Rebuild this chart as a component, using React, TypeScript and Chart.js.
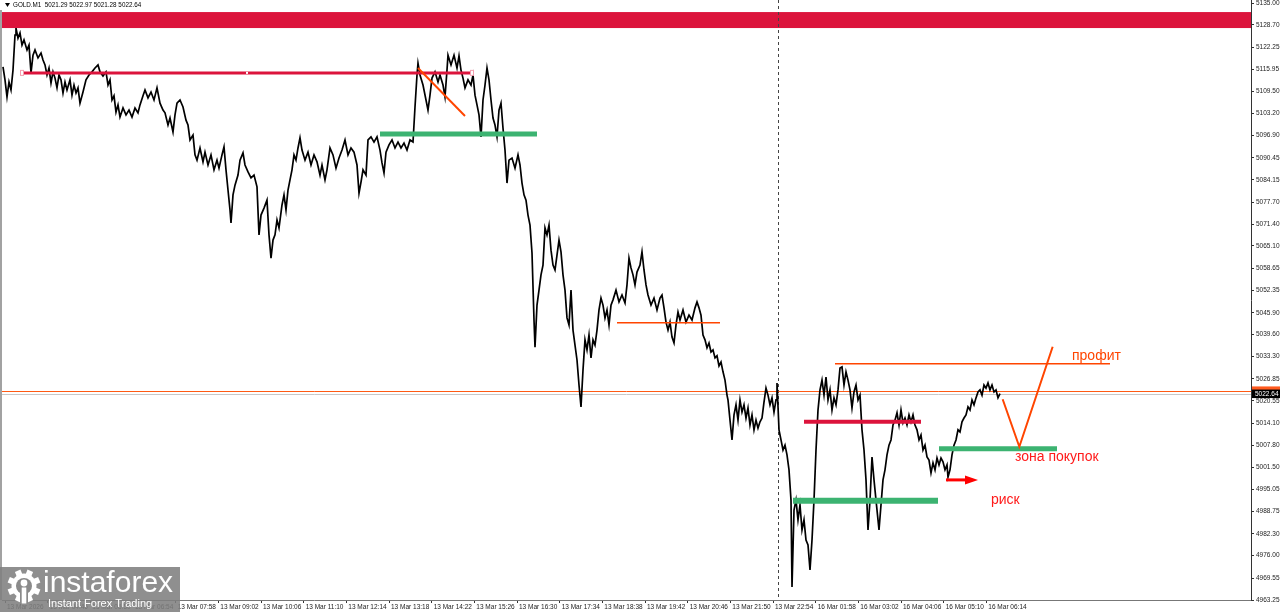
import React, { useEffect, useRef } from "react";
import { Chart, registerables } from "chart.js";

Chart.register(...registerables);

// ---------------- DATA ----------------
const symbolHeader = "GOLD.M1  5021.29 5022.97 5021.28 5022.64";

const timeLabels = [
  "13 Mar 2026", "13 Mar 04:46", "13 Mar 05:50", "13 Mar 06:54", "13 Mar 07:58",
  "13 Mar 09:02", "13 Mar 10:06", "13 Mar 11:10", "13 Mar 12:14", "13 Mar 13:18",
  "13 Mar 14:22", "13 Mar 15:26", "13 Mar 16:30", "13 Mar 17:34", "13 Mar 18:38",
  "13 Mar 19:42", "13 Mar 20:46", "13 Mar 21:50", "13 Mar 22:54", "16 Mar 01:58",
  "16 Mar 03:02", "16 Mar 04:06", "16 Mar 05:10", "16 Mar 06:14",
];
const barsPerTimeLabel = 64;

const priceTicks = [
  5135.0, 5128.7, 5122.25, 5115.95, 5109.5, 5103.2, 5096.9, 5090.45, 5084.15,
  5077.7, 5071.4, 5065.1, 5058.65, 5052.35, 5045.9, 5039.6, 5033.3, 5026.85,
  5020.55, 5014.1, 5007.8, 5001.5, 4995.05, 4988.75, 4982.3, 4976.0, 4969.55,
  4963.25,
];

const priceMin = 4963.25;
const priceMax = 5135.87;
const barMin = -4.5;
const barMax = 1869;

// [bar index (minutes from first label), close price]
const closes: [number, number][] = [
  [-3,5116.6],[0,5112.9],[3,5108.0],[6,5112.3],[9,5110.0],[12,5115.7],[15,5125.8],[16.5,5127.8],[19.5,5124.9],[22.5,5126.4],
  [25.5,5122.9],[28.5,5124.4],[33,5121.5],[36,5122.9],[39,5114.9],[42,5120.0],[45,5121.5],[49.5,5119.2],[54,5120.6],[57,5118.6],
  [60,5117.2],[63,5114.3],[66,5116.3],[69,5112.0],[72,5115.2],[75,5113.4],[78,5110.6],[81,5114.3],[84,5112.9],[87,5109.1],
  [90,5112.3],[93,5110.0],[97.5,5112.9],[100.5,5108.5],[103.5,5111.4],[106.5,5109.1],[109.5,5110.6],[112.5,5106.2],[117,5109.4],[121.5,5112.9],
  [126,5114.3],[130.5,5115.2],[135,5116.3],[139.5,5117.2],[142.5,5115.2],[147,5114.0],[151.5,5115.2],[154.5,5111.4],[157.5,5112.9],[160.5,5107.1],
  [163.5,5108.3],[166.5,5103.6],[169.5,5105.7],[172.5,5102.2],[177,5104.8],[181.5,5102.8],[186,5104.2],[190.5,5102.2],[195,5104.8],[199.5,5103.4],
  [202.5,5105.7],[207,5108.3],[210,5110.0],[214.5,5107.7],[219,5109.4],[223.5,5107.1],[228,5110.6],[232.5,5106.2],[237,5104.2],[240,5103.4],
  [244.5,5099.9],[247.5,5101.9],[252,5097.9],[255,5102.8],[258,5106.2],[262.5,5107.1],[267,5105.1],[271.5,5101.3],[274.5,5099.9],[277.5,5095.6],
  [282,5097.0],[285,5091.3],[288,5089.8],[292.5,5093.3],[297,5089.3],[300,5092.1],[304.5,5088.4],[309,5091.3],[313.5,5087.0],[318,5089.8],
  [321,5087.5],[325.5,5091.3],[328.5,5093.6],[331.5,5087.0],[334.5,5081.2],[337.5,5075.5],[339,5071.7],[342,5079.8],[345,5082.6],[349.5,5085.5],
  [352.5,5089.8],[357,5091.9],[360,5088.4],[364.5,5086.4],[369,5084.7],[373.5,5085.5],[378,5082.1],[381,5068.3],[384,5074.0],[388.5,5076.0],
  [393,5078.3],[396,5068.3],[399,5061.6],[402,5066.8],[405,5068.3],[408,5072.6],[411,5070.3],[415.5,5076.9],[418.5,5079.8],[421.5,5075.5],
  [424.5,5081.2],[427.5,5084.1],[430.5,5087.0],[433.5,5091.3],[436.5,5089.8],[439.5,5093.3],[442.5,5096.2],[445.5,5092.7],[450,5089.8],[454.5,5092.1],
  [459,5088.4],[463.5,5091.3],[468,5089.3],[472.5,5085.5],[475.5,5088.4],[480,5084.1],[483,5087.0],[487.5,5093.3],[492,5091.3],[496.5,5087.5],
  [501,5090.4],[505.5,5092.7],[510,5095.6],[514.5,5091.3],[519,5093.3],[523.5,5092.1],[528,5088.4],[531,5080.3],[534,5083.5],[537,5087.0],
  [541.5,5085.5],[544.5,5095.6],[549,5096.5],[553.5,5095.0],[558,5096.5],[562.5,5092.7],[565.5,5089.0],[568.5,5086.1],[571.5,5092.1],[576,5094.2],
  [580.5,5095.6],[585,5093.3],[589.5,5095.0],[594,5093.3],[598.5,5094.7],[603,5092.7],[607.5,5095.6],[612,5095.0],[615,5105.1],[618,5114.3],
  [619.5,5117.7],[622.5,5114.3],[627,5111.4],[631.5,5107.1],[634.5,5104.2],[637.5,5108.5],[640.5,5113.4],[645,5115.2],[649.5,5112.3],[652.5,5114.3],
  [657,5111.4],[660,5108.0],[663,5115.7],[664.5,5120.0],[669,5117.2],[673.5,5120.0],[678,5116.3],[681,5119.8],[684,5115.7],[687,5113.4],
  [690,5110.6],[694.5,5112.9],[699,5111.4],[702,5114.3],[705,5108.5],[708,5105.7],[711,5102.8],[714,5096.5],[717,5107.1],[720,5111.4],
  [723,5116.3],[726,5112.9],[729,5107.1],[732,5101.9],[735,5099.9],[738,5096.5],[741,5104.2],[744,5106.2],[747,5099.0],[750,5092.7],
  [753,5083.2],[756,5089.8],[760.5,5090.4],[765,5087.5],[769.5,5091.3],[772.5,5088.4],[775.5,5083.2],[778.5,5079.8],[781.5,5078.3],[784.5,5074.0],
  [787.5,5071.1],[790.5,5063.1],[793.5,5043.8],[795,5036.0],[798,5048.1],[801,5052.4],[804,5056.8],[807,5059.6],[810,5070.3],[813,5068.3],
  [816,5071.1],[819,5063.9],[822,5059.6],[825,5058.2],[828,5062.5],[831,5066.8],[834,5063.4],[837,5056.8],[840,5052.4],[843,5044.4],
  [846,5042.4],[849,5052.4],[852,5040.9],[855,5036.6],[858,5032.3],[861,5025.1],[864,5018.8],[867,5029.4],[870,5038.1],[873,5035.2],
  [876,5039.5],[879,5032.9],[882,5038.1],[885,5036.6],[888,5040.9],[891,5046.7],[894,5050.1],[897,5048.1],[900,5044.4],[903,5046.7],
  [906,5042.4],[909,5048.1],[912,5049.6],[916.5,5052.4],[921,5049.0],[925.5,5051.0],[930,5048.7],[933,5053.9],[936,5061.6],[939,5058.8],
  [942,5056.8],[945,5053.9],[948,5057.6],[952.5,5059.6],[955.5,5063.4],[958.5,5058.2],[961.5,5053.9],[964.5,5051.0],[969,5048.1],[973.5,5050.1],
  [978,5046.7],[982.5,5050.1],[985.5,5051.0],[988.5,5047.3],[991.5,5043.2],[994.5,5040.9],[997.5,5043.2],[1000.5,5038.9],[1003.5,5037.2],[1006.5,5042.4],
  [1009.5,5046.1],[1012.5,5043.8],[1017,5046.7],[1021.5,5043.2],[1026,5045.2],[1030.5,5043.8],[1035,5047.3],[1038,5049.0],[1041,5047.3],[1044,5045.2],
  [1047,5039.5],[1050,5038.1],[1053,5035.8],[1056,5037.2],[1059,5034.6],[1062,5035.2],[1065,5032.9],[1068,5033.5],[1071,5030.6],[1074,5031.7],
  [1077,5028.9],[1080,5026.5],[1083,5022.2],[1084.5,5020.8],[1087.5,5015.0],[1090.5,5009.3],[1093.5,5016.5],[1096.5,5019.4],[1099.5,5015.0],[1102.5,5020.8],
  [1105.5,5017.3],[1108.5,5019.4],[1111.5,5015.6],[1114.5,5018.5],[1117.5,5013.6],[1120.5,5016.5],[1123.5,5012.2],[1126.5,5015.0],[1129.5,5012.7],[1132.5,5014.5],
  [1135.5,5015.6],[1138.5,5020.2],[1141.5,5024.2],[1144.5,5022.2],[1147.5,5019.4],[1150.5,5021.4],[1153.5,5017.3],[1156.5,5020.8],[1158,5025.7],[1161,5012.2],
  [1164,5009.3],[1167,5006.4],[1170,5007.8],[1173,5005.0],[1176,5000.7],[1179,4992.0],[1180.5,4967.0],[1183.5,4989.1],[1186.5,4992.0],[1189.5,4986.3],
  [1192.5,4990.6],[1195.5,4983.4],[1198.5,4986.3],[1201.5,4980.5],[1204.5,4979.1],[1207.5,4971.9],[1210.5,4980.5],[1213.5,4992.0],[1216.5,5006.4],[1219.5,5017.9],
  [1222.5,5023.7],[1225.5,5026.5],[1228.5,5022.2],[1231.5,5027.4],[1234.5,5020.8],[1237.5,5023.7],[1240.5,5017.9],[1243.5,5021.4],[1246.5,5019.4],[1249.5,5023.7],
  [1252.5,5030.0],[1255.5,5030.3],[1258.5,5025.1],[1261.5,5028.9],[1264.5,5026.5],[1267.5,5023.7],[1270.5,5018.5],[1273.5,5023.1],[1276.5,5025.1],[1279.5,5020.8],
  [1282.5,5022.2],[1285.5,5012.2],[1288.5,5006.4],[1291.5,4997.8],[1294.5,4983.4],[1297.5,4992.0],[1300.5,5004.4],[1303.5,4997.8],[1306.5,4992.0],[1309.5,4986.3],
  [1311,4983.4],[1314,4990.6],[1317,4997.8],[1320,5000.7],[1323,5005.0],[1326,5007.8],[1329,5009.3],[1332,5013.6],[1335,5015.0],[1338,5017.1],
  [1341,5013.6],[1344,5017.9],[1347,5014.2],[1350,5015.6],[1353,5013.6],[1356,5016.5],[1359,5014.5],[1362,5016.5],[1365,5013.6],[1368,5012.2],
  [1371,5009.3],[1374,5010.7],[1377,5006.4],[1380,5007.8],[1383,5004.4],[1386,5003.5],[1389,4999.8],[1392,5002.7],[1395,5000.7],[1398,5004.1],
  [1401,5002.1],[1404,5004.1],[1407,5003.0],[1410,5000.7],[1413,5002.1],[1414.5,4998.6],[1417.5,5000.7],[1420.5,5005.0],[1423.5,5007.8],[1426.5,5009.3],
  [1429.5,5012.2],[1432.5,5011.6],[1435.5,5014.5],[1438.5,5015.6],[1441.5,5016.5],[1444.5,5018.8],[1447.5,5017.9],[1450.5,5020.8],[1453.5,5019.4],[1456.5,5021.4],
  [1459.5,5023.1],[1462.5,5023.7],[1465.5,5022.2],[1468.5,5025.1],[1471.5,5024.2],[1474.5,5025.7],[1477.5,5023.7],[1480.5,5025.1],[1483.5,5023.1],[1486.5,5023.7],
  [1489.5,5021.4],[1492.5,5022.6],
];

const lastBid = 5022.64;
const lastAsk = 5023.4;
const daySeparatorBar = 1159;
const resistanceZone: [number, number] = [5127.8, 5132.4];

// levels: [fromBar, toBar, price]
const crimsonLevels: [number, number, number][] = [
  [25.5, 700.5, 5114.9],
  [1198.5, 1374, 5014.5],
];
const greenLevels: [number, number, number][] = [
  [562.5, 798, 5097.3],
  [1401, 1578, 5006.8],
  [1182, 1399.5, 4991.8],
];
const orangeLevels: [number, number, number][] = [
  [918, 1072.5, 5043.0],
  [1245, 1657.5, 5031.2],
];
const orangePaths: [number, number][][] = [
  [[619.5, 5116.3], [690, 5102.5]],
  [[1496.5, 5021.0], [1521.5, 5007.35], [1571.5, 5036.1]],
];
const riskArrow: [number, number, number] = [1411.5, 1459.5, 4997.8];
const noteTexts = ["профит", "зона покупок", "риск"];
const noteBars = [1600.5, 1515, 1479];
const notePrices = [5033.4, 5004.4, 4992.0];

// ---------------- DRAWING ----------------
const AXIS_FONT = '"Liberation Sans", Arial, sans-serif';

function drawGear(ctx: CanvasRenderingContext2D, cx: number, cy: number) {
  ctx.save();
  ctx.fillStyle = "#ffffff";
  ctx.beginPath();
  ctx.arc(cx, cy, 12.5, 0, Math.PI * 2);
  ctx.fill();
  for (let i = 0; i < 8; i++) {
    ctx.save();
    ctx.translate(cx, cy);
    ctx.rotate((i * Math.PI) / 4 + Math.PI / 8);
    ctx.fillRect(-3, -16.5, 6, 6);
    ctx.restore();
  }
  ctx.fillStyle = "#8a8a8a";
  ctx.beginPath();
  ctx.arc(cx, cy, 8, 0, Math.PI * 2);
  ctx.fill();
  ctx.fillRect(cx - 4, cy + 4, 8, 14);
  ctx.fillStyle = "#ffffff";
  ctx.beginPath();
  ctx.arc(cx, cy - 3, 3.4, 0, Math.PI * 2);
  ctx.fill();
  ctx.fillRect(cx - 2.3, cy + 1.5, 4.6, 16);
  ctx.restore();
}

const overlayPlugin = {
  id: "mt4overlay",
  beforeDatasetsDraw(chart: any) {
    const { ctx, chartArea: a } = chart;
    const x = chart.scales.x;
    const y = chart.scales.y;
    ctx.save();
    ctx.beginPath();
    ctx.rect(a.left, a.top, a.right - a.left, a.bottom - a.top);
    ctx.clip();
    // resistance zone
    const yTop = y.getPixelForValue(resistanceZone[1]);
    const yBot = y.getPixelForValue(resistanceZone[0]);
    ctx.fillStyle = "#DC143C";
    ctx.fillRect(a.left, yTop, a.right - a.left, yBot - yTop);
    // day separator
    const sx = Math.round(x.getPixelForValue(daySeparatorBar)) + 0.5;
    ctx.strokeStyle = "#444";
    ctx.lineWidth = 1;
    ctx.setLineDash([3, 3]);
    ctx.beginPath();
    ctx.moveTo(sx, a.top);
    ctx.lineTo(sx, a.bottom);
    ctx.stroke();
    ctx.setLineDash([]);
    // bid / ask lines
    const yb = Math.round(y.getPixelForValue(lastBid)) + 0.5;
    const ya = Math.round(y.getPixelForValue(lastAsk)) + 0.5;
    ctx.strokeStyle = "#c8c8c8";
    ctx.beginPath();
    ctx.moveTo(a.left, yb);
    ctx.lineTo(a.right, yb);
    ctx.stroke();
    ctx.strokeStyle = "#FF5A14";
    ctx.beginPath();
    ctx.moveTo(a.left, ya);
    ctx.lineTo(a.right, ya);
    ctx.stroke();
    ctx.restore();
  },
  afterDatasetsDraw(chart: any) {
    const { ctx, chartArea: a } = chart;
    const x = chart.scales.x;
    const y = chart.scales.y;
    const px = (b: number) => x.getPixelForValue(b);
    const py = (p: number) => y.getPixelForValue(p);
    ctx.save();
    ctx.beginPath();
    ctx.rect(a.left, a.top, a.right - a.left, a.bottom - a.top);
    ctx.clip();
    ctx.lineCap = "butt";
    const hLine = (lv: [number, number, number], color: string, w: number) => {
      ctx.strokeStyle = color;
      ctx.lineWidth = w;
      ctx.beginPath();
      ctx.moveTo(px(lv[0]), py(lv[2]));
      ctx.lineTo(px(lv[1]), py(lv[2]));
      ctx.stroke();
    };
    hLine(crimsonLevels[0], "#DC143C", 3);
    hLine(crimsonLevels[1], "#DC143C", 4);
    hLine(greenLevels[0], "#3CB371", 5);
    hLine(greenLevels[1], "#3CB371", 5);
    hLine(greenLevels[2], "#3CB371", 6);
    orangeLevels.forEach((lv) => hLine(lv, "#FF4500", 1.5));
    // trendline handles
    const c0 = crimsonLevels[0];
    const hy = py(c0[2]);
    [c0[0], c0[1]].forEach((b) => {
      ctx.fillStyle = "#fff";
      ctx.fillRect(px(b) - 1.5, hy - 2.5, 3, 5);
      ctx.strokeStyle = "#F4A0B0";
      ctx.lineWidth = 1;
      ctx.strokeRect(px(b) - 1.5, hy - 2.5, 3, 5);
    });
    ctx.fillStyle = "#fff";
    ctx.fillRect(px((c0[0] + c0[1]) / 2) - 1, hy - 1, 2, 2);
    // orange paths
    ctx.strokeStyle = "#FF4500";
    ctx.lineWidth = 2;
    ctx.lineJoin = "miter";
    orangePaths.forEach((path) => {
      ctx.beginPath();
      path.forEach(([b, p], i) => (i ? ctx.lineTo(px(b), py(p)) : ctx.moveTo(px(b), py(p))));
      ctx.stroke();
    });
    // risk arrow
    const ax0 = px(riskArrow[0]);
    const ax1 = px(riskArrow[1]);
    const ay = py(riskArrow[2]);
    ctx.strokeStyle = "#FF0000";
    ctx.fillStyle = "#FF0000";
    ctx.lineWidth = 3;
    ctx.beginPath();
    ctx.moveTo(ax0, ay);
    ctx.lineTo(ax1 - 10, ay);
    ctx.stroke();
    ctx.beginPath();
    ctx.moveTo(ax1, ay);
    ctx.lineTo(ax1 - 13, ay - 4.5);
    ctx.lineTo(ax1 - 13, ay + 4.5);
    ctx.closePath();
    ctx.fill();
    // notes
    ctx.font = '14px "Liberation Sans", Arial, sans-serif';
    ctx.textBaseline = "middle";
    ctx.textAlign = "left";
    noteTexts.forEach((t, i) => {
      ctx.fillStyle = i === 0 ? "#FF4500" : "#FF1A1A";
      ctx.fillText(t, px(noteBars[i]), py(notePrices[i]));
    });
    ctx.restore();
  },
  afterDraw(chart: any) {
    const { ctx, chartArea: a } = chart;
    const y = chart.scales.y;
    ctx.save();
    // left window border
    ctx.fillStyle = "#a2a2a2";
    ctx.fillRect(0, 10, 2, a.bottom - 10);
    // header
    ctx.fillStyle = "#000";
    ctx.beginPath();
    ctx.moveTo(5, 3);
    ctx.lineTo(10, 3);
    ctx.lineTo(7.5, 7);
    ctx.closePath();
    ctx.fill();
    ctx.font = "6.3px " + AXIS_FONT;
    ctx.textBaseline = "middle";
    ctx.textAlign = "left";
    ctx.fillText(symbolHeader, 13, 5.5);
    // price labels on the axis
    const ya = y.getPixelForValue(lastAsk);
    const yb = y.getPixelForValue(lastBid);
    ctx.fillStyle = "#FF5A1E";
    ctx.fillRect(a.right + 1, ya - 4.5, 1280 - a.right - 1, 9);
    ctx.fillStyle = "#000";
    ctx.fillRect(a.right + 1, yb - 4, 1280 - a.right - 1, 8.5);
    ctx.fillStyle = "#fff";
    ctx.font = "6.5px " + AXIS_FONT;
    ctx.fillText(lastBid.toFixed(2), a.right + 4, yb + 0.5);
    // logo
    ctx.fillStyle = "rgba(128,128,128,0.88)";
    ctx.fillRect(0, 567, 180, 45);
    drawGear(ctx, 24, 586);
    ctx.fillStyle = "#fff";
    ctx.textBaseline = "alphabetic";
    ctx.font = '300 30px "Liberation Sans", Arial, sans-serif';
    ctx.fillText("instaforex", 43, 592);
    ctx.font = '11px "Liberation Sans", Arial, sans-serif';
    ctx.fillText("Instant Forex Trading", 48, 607);
    ctx.restore();
  },
};

export default function App() {
  const canvasRef = useRef<HTMLCanvasElement | null>(null);

  useEffect(() => {
    document.body.style.margin = "0";
    const canvas = canvasRef.current;
    if (!canvas) return;
    const chart = new Chart(canvas, {
      type: "line",
      data: {
        datasets: [
          {
            data: closes.map(([b, p]) => ({ x: b, y: p })),
            borderColor: "#000000",
            borderWidth: 1.7,
            pointRadius: 0,
            tension: 0,
            fill: false,
          },
        ],
      },
      options: {
        responsive: false,
        animation: false,
        devicePixelRatio: 1,
        events: [],
        layout: { padding: { left: 2, right: 0, top: 0, bottom: 0 } },
        plugins: { legend: { display: false }, tooltip: { enabled: false } },
        scales: {
          x: {
            type: "linear",
            position: "bottom",
            min: barMin,
            max: barMax,
            afterBuildTicks: (s: any) => {
              s.ticks = timeLabels.map((_, i) => ({ value: i * barsPerTimeLabel }));
            },
            afterFit: (s: any) => {
              s.height = 12;
              s.paddingLeft = 0;
              s.paddingRight = 0;
              s.paddingTop = 0;
              s.paddingBottom = 0;
            },
            ticks: {
              autoSkip: false,
              maxRotation: 0,
              minRotation: 0,
              align: "start",
              padding: 0,
              labelOffset: 2,
              color: "#222",
              font: { family: AXIS_FONT, size: 6.5 },
              callback: (_v: any, i: number) => timeLabels[i],
            },
            grid: { drawOnChartArea: false, drawTicks: true, tickLength: 3, color: "#333" },
            border: { display: true, color: "#777" },
          },
          y: {
            type: "linear",
            position: "right",
            min: priceMin,
            max: priceMax,
            afterBuildTicks: (s: any) => {
              s.ticks = priceTicks.map((v) => ({ value: v }));
            },
            afterFit: (s: any) => {
              s.width = 29;
              s.paddingLeft = 0;
              s.paddingRight = 0;
              s.paddingTop = 0;
              s.paddingBottom = 0;
            },
            ticks: {
              autoSkip: false,
              padding: 2,
              color: "#222",
              font: { family: AXIS_FONT, size: 6.5 },
              callback: (v: any) => Number(v).toFixed(2),
            },
            grid: { drawOnChartArea: false, drawTicks: true, tickLength: 3, color: "#333" },
            border: { display: true, color: "#333" },
          },
        },
      },
      plugins: [overlayPlugin],
    } as any);
    return () => chart.destroy();
  }, []);

  return (
    <div style={{ position: "fixed", left: 0, top: 0, width: 1280, height: 612, background: "#fff" }}>
      <canvas ref={canvasRef} width={1280} height={612} style={{ display: "block" }} />
    </div>
  );
}
